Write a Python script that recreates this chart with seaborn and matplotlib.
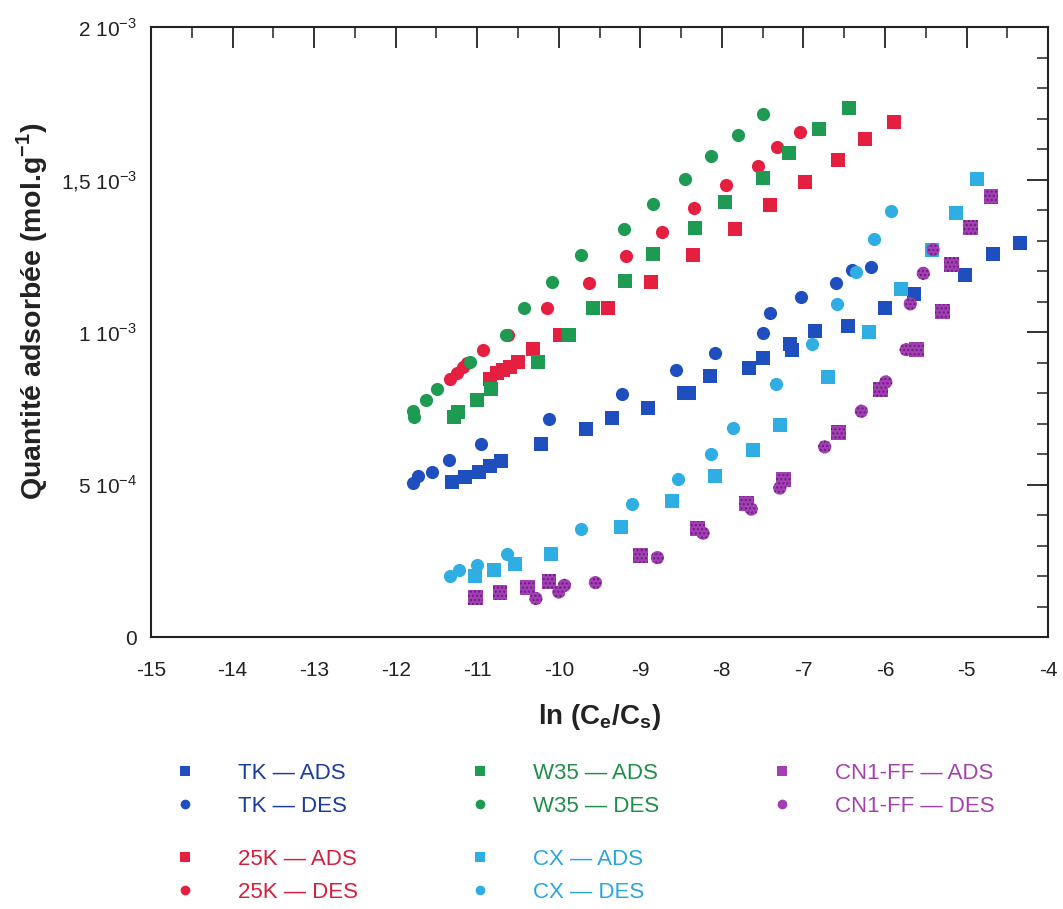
import numpy as np
import pandas as pd
import matplotlib
matplotlib.use("Agg")
import matplotlib.pyplot as plt
import seaborn as sns
from matplotlib.lines import Line2D
from matplotlib.ticker import FixedLocator, MultipleLocator, FixedFormatter

# ---------------- data (y in 1e-3 mol/g) ----------------
tk_ads_x = [-11.31, -11.15, -10.98, -10.84, -10.71, -10.22, -9.66, -9.35, -8.91, -8.46, -8.40,
            -8.15, -7.67, -7.49, -7.16, -7.14, -6.86, -6.45, -6.00, -5.65, -5.02, -4.67, -4.34]
tk_ads_y = [0.509, 0.526, 0.542, 0.562, 0.578, 0.632, 0.684, 0.720, 0.752, 0.802, 0.802,
            0.856, 0.884, 0.917, 0.963, 0.941, 1.004, 1.021, 1.078, 1.127, 1.189, 1.256, 1.293]
tk_des_x = [-11.79, -11.72, -11.55, -11.35, -10.95, -10.12, -9.22, -8.56, -8.09, -7.49, -7.41,
            -7.03, -6.60, -6.40, -6.17]
tk_des_y = [0.506, 0.528, 0.542, 0.580, 0.632, 0.717, 0.799, 0.875, 0.932, 0.999, 1.063,
            1.116, 1.163, 1.205, 1.214]

k25_ads_x = [-10.84, -10.76, -10.68, -10.60, -10.50, -10.31, -9.98, -9.40, -8.87, -8.36, -7.84,
             -7.41, -6.98, -6.58, -6.24, -5.89]
k25_ads_y = [0.848, 0.865, 0.875, 0.886, 0.903, 0.944, 0.990, 1.078, 1.165, 1.252, 1.337,
             1.416, 1.493, 1.566, 1.635, 1.690]
k25_des_x = [-11.33, -11.25, -11.17, -11.12, -10.93, -10.62, -10.14, -9.63, -9.17, -8.74, -8.34,
             -7.95, -7.56, -7.32, -7.04]
k25_des_y = [0.848, 0.865, 0.886, 0.899, 0.943, 0.990, 1.078, 1.163, 1.249, 1.329, 1.409,
             1.482, 1.546, 1.606, 1.657]

w35_ads_x = [-11.29, -11.23, -11.00, -10.83, -10.25, -9.87, -9.58, -9.19, -8.84, -8.33, -7.96,
             -7.49, -7.18, -6.81, -6.44]
w35_ads_y = [0.722, 0.739, 0.777, 0.813, 0.901, 0.990, 1.078, 1.168, 1.256, 1.342, 1.426,
             1.507, 1.589, 1.666, 1.735]
w35_des_x = [-11.79, -11.77, -11.63, -11.49, -11.09, -10.65, -10.42, -10.08, -9.73, -9.20, -8.85,
             -8.45, -8.13, -7.80, -7.50]
w35_des_y = [0.742, 0.722, 0.777, 0.813, 0.903, 0.990, 1.078, 1.165, 1.252, 1.337, 1.420,
             1.501, 1.578, 1.648, 1.715]

cx_ads_x = [-11.03, -10.79, -10.54, -10.10, -9.24, -8.61, -8.08, -7.62, -7.29, -6.70, -6.19,
            -5.80, -5.42, -5.13, -4.87]
cx_ads_y = [0.202, 0.222, 0.239, 0.273, 0.360, 0.447, 0.529, 0.615, 0.697, 0.852, 1.002,
            1.143, 1.269, 1.391, 1.501]
cx_des_x = [-11.33, -11.22, -11.00, -10.64, -9.73, -9.10, -8.54, -8.13, -7.86, -7.34, -6.89,
            -6.59, -6.35, -6.14, -5.93]
cx_des_y = [0.202, 0.220, 0.238, 0.274, 0.356, 0.438, 0.520, 0.602, 0.685, 0.829, 0.963,
            1.092, 1.198, 1.307, 1.397]

cn1_ads_x = [-11.02, -10.72, -10.38, -10.12, -9.00, -8.30, -7.70, -7.24, -6.57, -6.06, -5.61,
             -5.29, -5.18, -4.95, -4.70]
cn1_ads_y = [0.130, 0.146, 0.162, 0.184, 0.268, 0.357, 0.439, 0.518, 0.670, 0.812, 0.943,
             1.067, 1.223, 1.344, 1.444]
cn1_des_x = [-10.28, -10.00, -9.93, -9.55, -8.79, -8.23, -7.64, -7.29, -6.74, -6.29, -5.99,
             -5.74, -5.69, -5.53, -5.41]
cn1_des_y = [0.127, 0.148, 0.170, 0.179, 0.261, 0.341, 0.420, 0.489, 0.624, 0.741, 0.837,
             0.943, 1.093, 1.193, 1.271]

materials = ["TK", "25K", "W35", "CX", "CN1-FF"]
marker_colors = {"TK": "#1f4fbf", "25K": "#e41f3f", "W35": "#1e9a53",
                 "CX": "#2eaee3", "CN1-FF": "#a23fb3"}
text_colors = {"TK": "#1a3c9e", "25K": "#d61e3e", "W35": "#1f8f48",
               "CX": "#2aa6dd", "CN1-FF": "#a442ad"}

series = {
    ("TK", "ADS"): (tk_ads_x, tk_ads_y), ("TK", "DES"): (tk_des_x, tk_des_y),
    ("25K", "ADS"): (k25_ads_x, k25_ads_y), ("25K", "DES"): (k25_des_x, k25_des_y),
    ("W35", "ADS"): (w35_ads_x, w35_ads_y), ("W35", "DES"): (w35_des_x, w35_des_y),
    ("CX", "ADS"): (cx_ads_x, cx_ads_y), ("CX", "DES"): (cx_des_x, cx_des_y),
    ("CN1-FF", "ADS"): (cn1_ads_x, cn1_ads_y), ("CN1-FF", "DES"): (cn1_des_x, cn1_des_y),
}

rows = []
for (mat, mode), (xs, ys) in series.items():
    for xv, yv in zip(xs, ys):
        rows.append({"x": xv, "y": yv * 1e-3, "mat": mat, "mode": mode})
df = pd.DataFrame(rows)

# ---------------- style ----------------
sns.set_style("white")
plt.rcParams["font.family"] = ["Liberation Sans", "DejaVu Sans"]
plt.rcParams["mathtext.fontset"] = "custom"
plt.rcParams["mathtext.rm"] = "Liberation Sans"
plt.rcParams["mathtext.bf"] = "Liberation Sans:bold"
plt.rcParams["axes.unicode_minus"] = False

fig = plt.figure(figsize=(10.63, 9.09), dpi=100)
ax = fig.add_axes([0.142, 0.299, 0.844, 0.671])

for mat in materials:
    sub = df[df["mat"] == mat]
    for mode, mk, size in [("ADS", "s", 115), ("DES", "o", 90)]:
        s2 = sub[sub["mode"] == mode]
        sns.scatterplot(data=s2, x="x", y="y", ax=ax, marker=mk, s=size,
                        color=marker_colors[mat], linewidth=0, legend=False, zorder=3)
        if mat == "CN1-FF":
            coll = ax.collections[-1]
            coll.set_hatch("....")
            coll.set_edgecolor("#6a1f7c")
            coll.set_linewidth(0)

ax.set_xlim(-15, -4)
ax.set_ylim(0, 2e-3)

ax.xaxis.set_major_locator(FixedLocator(list(range(-15, -3))))
ax.xaxis.set_major_formatter(FixedFormatter([str(v) for v in range(-15, -3)]))
ax.xaxis.set_minor_locator(MultipleLocator(0.5))
ytick_vals = [0, 5e-4, 1e-3, 1.5e-3, 2e-3]
ytick_labels = ["0", "5 10$^{-4}$", "1 10$^{-3}$", "1,5 10$^{-3}$", "2 10$^{-3}$"]
ax.yaxis.set_major_locator(FixedLocator(ytick_vals))
ax.yaxis.set_major_formatter(FixedFormatter(ytick_labels))
ax.yaxis.set_minor_locator(MultipleLocator(1e-4))

ax.tick_params(which="both", direction="in", top=True, right=True, color="#222222")
ax.tick_params(which="major", length=15, width=1.3, labelsize=15, labelcolor="#222222")
ax.tick_params(which="minor", length=8, width=1.1)
ax.tick_params(axis="x", which="major", pad=17)
ax.tick_params(axis="y", which="major", pad=10)
for sp in ax.spines.values():
    sp.set_linewidth(1.5)
    sp.set_color("#222222")

ax.set_xlabel("ln (C$_\\mathbf{e}$/C$_\\mathbf{s}$)", fontsize=20, fontweight="bold",
              labelpad=16, color="#222222")
ax.set_ylabel("Quantité adsorbée (mol.g$^\\mathbf{-1}$)", fontsize=20.5, fontweight="bold",
              color="#222222")
ax.yaxis.set_label_coords(-0.112, 0.535)

# ---------------- legend blocks ----------------
def legend_block(mat, x_left, y_top):
    handles = [Line2D([], [], linestyle="none", marker="s", markersize=7.5,
                      markerfacecolor=marker_colors[mat], markeredgewidth=0),
               Line2D([], [], linestyle="none", marker="o", markersize=7,
                      markerfacecolor=marker_colors[mat], markeredgewidth=0)]
    labels = [f"{mat} — ADS", f"{mat} — DES"]
    leg = fig.legend(handles, labels, loc="upper left", bbox_to_anchor=(x_left, y_top),
                     frameon=False, fontsize=16, handlelength=1.0, handletextpad=1.9,
                     borderpad=0, borderaxespad=0, labelspacing=0.55,
                     labelcolor=text_colors[mat])
    return leg

legend_block("TK", 174 / 1063, 1 - 763 / 909)
legend_block("W35", 469 / 1063, 1 - 763 / 909)
legend_block("CN1-FF", 771 / 1063, 1 - 763 / 909)
legend_block("25K", 174 / 1063, 1 - 849 / 909)
legend_block("CX", 469 / 1063, 1 - 849 / 909)

fig.savefig("out.png", dpi=100, facecolor="white")
